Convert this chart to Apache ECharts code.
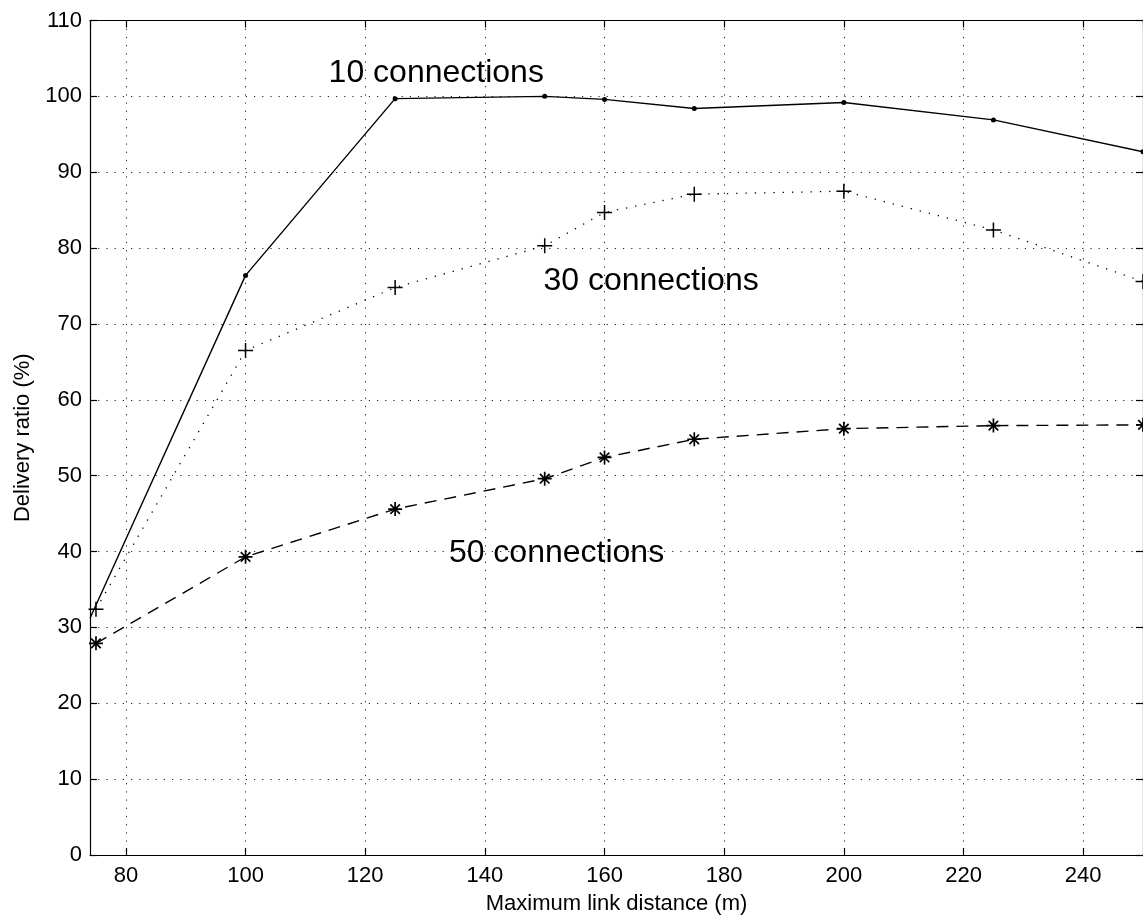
<!DOCTYPE html>
<html>
<head>
<meta charset="utf-8">
<script src="https://cdn.jsdelivr.net/npm/echarts@6/dist/echarts.min.js"></script>
<style>
html,body{margin:0;padding:0;background:#fff;}
#chart{width:1143px;height:921px;}
</style>
</head>
<body>
<div id="chart"></div>
<script>
// ---- data ----
const xTen = [74, 100, 125, 150, 160, 175, 200, 225, 250];
const tenConnections = [31.2, 76.4, 99.7, 100.0, 99.6, 98.4, 99.2, 96.9, 92.7];

const xCommon = [75, 100, 125, 150, 160, 175, 200, 225, 250];
const thirtyConnections = [32.4, 66.5, 74.8, 80.3, 84.7, 87.1, 87.5, 82.4, 75.6];
const fiftyConnections = [27.9, 39.3, 45.6, 49.6, 52.4, 54.8, 56.2, 56.6, 56.7];

const annotationNames = ['10 connections', '30 connections', '50 connections'];
const annotationX = [113.8, 149.7, 133.9];
const annotationY = [103.1, 75.6, 39.8];

const xTickLabels = [80, 100, 120, 140, 160, 180, 200, 220, 240];
const yTickLabels = [0, 10, 20, 30, 40, 50, 60, 70, 80, 90, 100, 110];

const FONT = "'Liberation Sans', Arial, Helvetica, sans-serif";

function pairs(xs, ys) { return xs.map((x, i) => [x, ys[i]]); }

const PLUS = 'path://M5,0L5,10M0,5L10,5';
const STAR = 'path://M5,0L5,10M0,5L10,5M1.6,1.6L8.4,8.4M1.6,8.4L8.4,1.6';

const chart = echarts.init(document.getElementById('chart'), null, {renderer: 'canvas'});

const gridLine = {show: true, lineStyle: {color: '#222', type: [1.2, 7], width: 1}};

const xBase = {
  type: 'value', min: 74, max: 250, splitNumber: 9,
  axisLine: {show: true, onZero: false, lineStyle: {color: '#000', width: 1.2}},
  axisTick: {show: true, inside: true, length: 7, lineStyle: {color: '#000', width: 1.2}}
};
const yBase = {
  type: 'value', min: 0, max: 110, interval: 10,
  axisLine: {show: true, onZero: false, lineStyle: {color: '#000', width: 1.2}},
  axisTick: {show: true, inside: true, length: 7, lineStyle: {color: '#000', width: 1.2}}
};

function xLabelFmt(v) { return xTickLabels.indexOf(v) >= 0 ? String(v) : ''; }
function yLabelFmt(v) { return yTickLabels.indexOf(v) >= 0 ? String(v) : ''; }

// first point of the 10-connection curve lies on the left axis; its dot is not drawn there
const tenData = pairs(xTen, tenConnections).map((p, i) => i === 0 ? {value: p, symbol: 'none'} : p);

chart.setOption({
  backgroundColor: '#fff',
  animation: false,
  textStyle: {fontFamily: FONT},
  grid: {left: 90, right: 0, top: 20.5, bottom: 66, containLabel: false},
  xAxis: [
    Object.assign({}, xBase, {
      position: 'bottom',
      name: 'Maximum link distance (m)', nameLocation: 'middle', nameGap: 38,
      nameTextStyle: {fontSize: 22, color: '#000', fontFamily: FONT},
      axisLabel: {show: true, fontSize: 22, color: '#000', margin: 10, fontFamily: FONT,
        showMinLabel: false, showMaxLabel: false, formatter: xLabelFmt},
      splitLine: gridLine
    }),
    Object.assign({}, xBase, {
      position: 'top',
      axisLabel: {show: false},
      splitLine: {show: false}
    })
  ],
  yAxis: [
    Object.assign({}, yBase, {
      position: 'left',
      name: 'Delivery ratio (%)', nameLocation: 'middle', nameGap: 54, nameRotate: 90,
      nameTextStyle: {fontSize: 22, color: '#000', fontFamily: FONT},
      axisLabel: {show: true, fontSize: 22, color: '#000', margin: 8, fontFamily: FONT, formatter: yLabelFmt},
      splitLine: gridLine
    }),
    Object.assign({}, yBase, {
      position: 'right',
      axisLabel: {show: false},
      splitLine: {show: false}
    })
  ],
  series: [
    {
      name: '10 connections', type: 'line', data: tenData,
      lineStyle: {color: '#000', width: 1.4, type: 'solid'},
      symbol: 'circle', symbolSize: 5,
      itemStyle: {color: '#000'},
      z: 5
    },
    {
      name: '30 connections', type: 'line', data: pairs(xCommon, thirtyConnections),
      lineStyle: {color: '#000', width: 1.3, type: [1.3, 8]},
      symbol: PLUS, symbolSize: 15, symbolKeepAspect: true,
      itemStyle: {color: '#000', borderColor: '#000', borderWidth: 1.5},
      z: 4
    },
    {
      name: '50 connections', type: 'line', data: pairs(xCommon, fiftyConnections),
      lineStyle: {color: '#000', width: 1.4, type: [12, 8]},
      symbol: STAR, symbolSize: 14, symbolKeepAspect: true,
      itemStyle: {color: '#000', borderColor: '#000', borderWidth: 1.7},
      z: 4
    },
    {
      name: 'annotations', type: 'scatter', silent: true,
      data: annotationNames.map((n, i) => ({name: n, value: [annotationX[i], annotationY[i]]})),
      symbolSize: 1,
      itemStyle: {color: 'rgba(0,0,0,0)', opacity: 1},
      label: {show: true, position: 'right', distance: 0, formatter: '{b}',
        fontSize: 32, color: '#000', opacity: 1, fontFamily: FONT},
      z: 6
    }
  ]
});
</script>
</body>
</html>
